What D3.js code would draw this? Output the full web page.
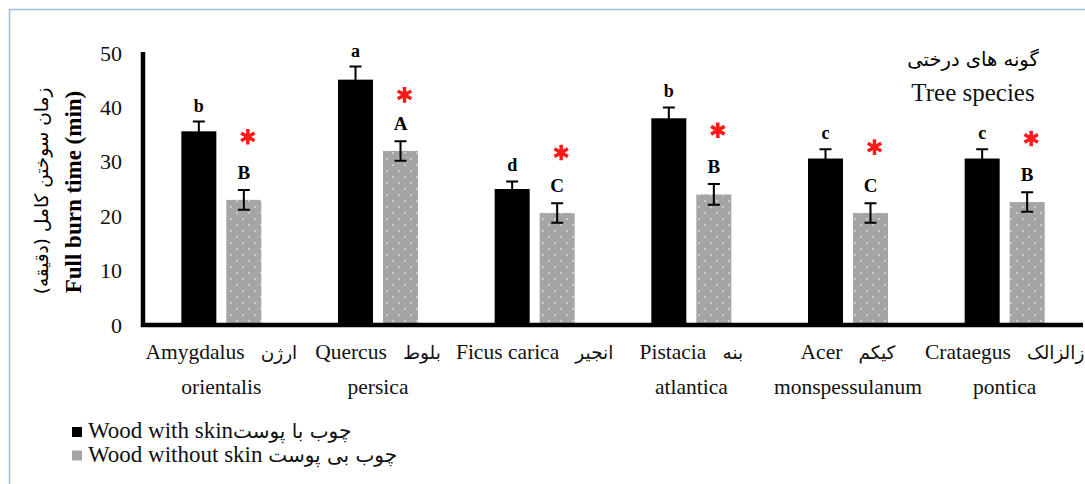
<!DOCTYPE html>
<html>
<head>
<meta charset="utf-8">
<script src="https://cdn.jsdelivr.net/npm/d3@7"></script>
<style>
  body { margin: 0; background: #fff; }
  text { font-family: "Liberation Serif", "Times New Roman", "DejaVu Sans", serif; }
  .fa { font-family: "DejaVu Sans", "Noto Sans", sans-serif; }
</style>
</head>
<body>
<script>
// data
var species = ["Amygdalus orientalis", "Quercus persica", "Ficus carica", "Pistacia atlantica", "Acer monspessulanum", "Crataegus pontica"];
var labelLine1 = ["Amygdalus", "Quercus", "Ficus carica", "Pistacia", "Acer", "Crataegus"];
var labelLine2 = ["orientalis", "persica", "", "atlantica", "monspessulanum", "pontica"];
var persianNames = ["ارژن", "بلوط", "انجیر", "بنه", "کیکم", "زالزالک"];
var withSkin = [35.6, 45.1, 25.0, 38.0, 30.6, 30.6];
var withSkinErr = [1.8, 2.4, 1.4, 2.0, 1.7, 1.7];
var withoutSkin = [23.0, 32.0, 20.6, 24.0, 20.6, 22.6];
var withoutSkinErr = [1.8, 1.8, 1.8, 1.9, 1.8, 1.8];
var lettersWith = ["b", "a", "d", "b", "c", "c"];
var lettersWithout = ["B", "A", "C", "B", "C", "B"];
var starLevel = [34.6, 42.3, 31.7, 35.8, 32.7, 34.3];
var yTicks = [0, 10, 20, 30, 40, 50];

var W = 1085, H = 484;
var svg = d3.select("body").append("svg").attr("width", W).attr("height", H);

var defs = svg.append("defs");
var pat = defs.append("pattern").attr("id", "dots")
  .attr("patternUnits", "userSpaceOnUse").attr("width", 12).attr("height", 12);
pat.append("rect").attr("width", 12).attr("height", 12).attr("fill", "#a5a5a5");
pat.append("circle").attr("cx", 3).attr("cy", 3).attr("r", 1).attr("fill", "#d8d8d8");
pat.append("circle").attr("cx", 9).attr("cy", 9).attr("r", 1).attr("fill", "#d8d8d8");

// frame
svg.append("path").attr("d", "M9.5," + H + "V9.5H" + W)
  .attr("fill", "none").attr("stroke", "#9cc0e0").attr("stroke-width", 1.5);

var x = d3.scaleBand().domain(species).range([143, 1083]);
var y = d3.scaleLinear().domain([0, 50]).range([325, 53]);
var barW = 35, gap = 10;
var off = (x.bandwidth() - 2 * barW - gap) / 2;

// y tick labels
var yAxis = svg.append("g").attr("transform", "translate(143,0)")
  .call(d3.axisLeft(y).tickValues(yTicks).tickSize(0).tickPadding(21));
yAxis.select(".domain").remove();
yAxis.selectAll("text").attr("font-size", 22).attr("fill", "#111")
  .style("font-family", "Liberation Serif");

var groups = svg.selectAll(".grp").data(species).enter().append("g").attr("class", "grp");

groups.append("rect")
  .attr("x", function(d) { return x(d) + off; })
  .attr("y", function(d, i) { return y(withSkin[i]); })
  .attr("width", barW)
  .attr("height", function(d, i) { return y(0) - y(withSkin[i]); })
  .attr("fill", "#000");

groups.append("rect")
  .attr("x", function(d) { return x(d) + off + barW + gap; })
  .attr("y", function(d, i) { return y(withoutSkin[i]); })
  .attr("width", barW)
  .attr("height", function(d, i) { return y(0) - y(withoutSkin[i]); })
  .attr("fill", "url(#dots)");

function errBar(sel, vals, errs, dx) {
  sel.append("path")
    .attr("d", function(d, i) {
      var cx = x(d) + dx, t = y(vals[i] + errs[i]), b = y(vals[i] - errs[i]);
      return "M" + (cx - 6) + "," + t + "H" + (cx + 6) + "M" + cx + "," + t + "V" + b +
        "M" + (cx - 6) + "," + b + "H" + (cx + 6);
    })
    .attr("fill", "none").attr("stroke", "#000").attr("stroke-width", 2);
}
errBar(groups, withSkin, withSkinErr, off + barW / 2);
errBar(groups, withoutSkin, withoutSkinErr, off + barW * 1.5 + gap);

groups.append("text")
  .attr("x", function(d) { return x(d) + off + barW / 2; })
  .attr("y", function(d, i) { return y(withSkin[i] + withSkinErr[i]) - 10; })
  .attr("text-anchor", "middle").attr("font-size", 18).attr("font-weight", "bold")
  .text(function(d, i) { return lettersWith[i]; });

groups.append("text")
  .attr("x", function(d) { return x(d) + off + barW * 1.5 + gap; })
  .attr("y", function(d, i) { return y(withoutSkin[i] + withoutSkinErr[i]) - 11; })
  .attr("text-anchor", "middle").attr("font-size", 19).attr("font-weight", "bold")
  .text(function(d, i) { return lettersWithout[i]; });

// red significance asterisks
var star = d3.symbol(d3.symbolAsterisk, 170);
groups.append("path")
  .attr("d", star)
  .attr("transform", function(d, i) {
    return "translate(" + (x(d) + off + barW * 1.5 + gap + 4) + "," + y(starLevel[i]) + ")";
  })
  .attr("fill", "none").attr("stroke", "#ff1a1a").attr("stroke-width", 3.5);

// x labels
var lab = groups.append("text")
  .attr("text-anchor", "middle").attr("font-size", 21.5).attr("fill", "#111")
  .attr("x", function(d) { return x(d) + x.bandwidth() / 2; })
  .attr("y", 359);
lab.append("tspan").text(function(d, i) { return labelLine1[i] + "\u00A0\u00A0 "; });
lab.append("tspan").attr("class", "fa").attr("font-size", 18.5)
  .text(function(d, i) { return persianNames[i]; });
groups.append("text")
  .attr("text-anchor", "middle").attr("font-size", 21.5).attr("fill", "#111")
  .attr("x", function(d) { return x(d) + x.bandwidth() / 2; })
  .attr("y", 394)
  .text(function(d, i) { return labelLine2[i]; });

// axes lines
svg.append("line").attr("x1", 143).attr("x2", 143)
  .attr("y1", y(50) - 1).attr("y2", y(0) + 2)
  .attr("stroke", "#000").attr("stroke-width", 4.5);
svg.append("line").attr("x1", 141).attr("x2", x.range()[1])
  .attr("y1", y(0)).attr("y2", y(0))
  .attr("stroke", "#000").attr("stroke-width", 4.5);

// y titles
svg.append("text").attr("transform", "translate(81,192) rotate(-90)")
  .attr("text-anchor", "middle").attr("font-size", 23).attr("font-weight", "bold")
  .text("Full burn time (min)");
svg.append("text").attr("class", "fa").attr("transform", "translate(48,191) rotate(-90)")
  .attr("text-anchor", "middle").attr("font-size", 18.5).attr("direction", "rtl")
  .text("زمان سوختن کامل (دقیقه)");

// top-right title
svg.append("text").attr("class", "fa").attr("x", 973).attr("y", 66)
  .attr("text-anchor", "middle").attr("font-size", 19.5).attr("direction", "rtl")
  .text("گونه های درختی");
svg.append("text").attr("x", 973).attr("y", 101)
  .attr("text-anchor", "middle").attr("font-size", 25).attr("fill", "#111")
  .text("Tree species");

// legend
var legendItems = ["Wood with skin", "Wood without skin "];
var legendFa = ["چوب با پوست", "چوب بی پوست"];
var legendFill = ["#000", "#a5a5a5"];
var leg = svg.selectAll(".leg").data(legendItems).enter().append("g")
  .attr("transform", function(d, i) { return "translate(72," + (427 + i * 23.5) + ")"; });
leg.append("rect").attr("width", 10).attr("height", 10)
  .attr("fill", function(d, i) { return legendFill[i]; });
var lt = leg.append("text").attr("x", 16).attr("y", 11).attr("font-size", 23).attr("fill", "#111");
lt.append("tspan").text(function(d) { return d; });
lt.append("tspan").attr("class", "fa").attr("font-size", 20)
  .text(function(d, i) { return legendFa[i]; });
</script>
</body>
</html>
